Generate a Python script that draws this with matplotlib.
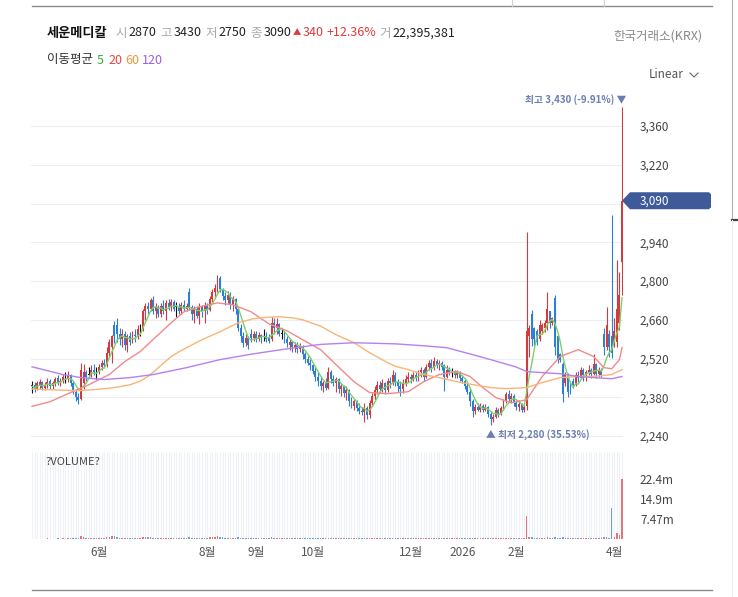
import numpy as np
import pandas as pd
import matplotlib
matplotlib.use('Agg')
import matplotlib.pyplot as plt
from matplotlib.patches import Polygon

plt.rcParams['font.family'] = ['Noto Sans CJK KR', 'DejaVu Sans']

# daily candles, late Apr 2025 .. early Apr 2026
opens = [
    2420, 2425, 2410, 2425, 2435, 2415, 2425, 2440, 2420, 2430,
    2450, 2435, 2440, 2450, 2450, 2460, 2430, 2400, 2380, 2375,
    2430, 2470, 2460, 2460, 2480, 2470, 2470, 2490, 2505, 2495,
    2540, 2560, 2640, 2640, 2610, 2590, 2610, 2570, 2600, 2580,
    2605, 2600, 2625, 2625, 2690, 2710, 2700, 2730, 2690, 2705,
    2680, 2710, 2690, 2720, 2705, 2725, 2705, 2705, 2690, 2715,
    2700, 2760, 2705, 2680, 2700, 2675, 2705, 2690, 2710, 2695,
    2735, 2760, 2775, 2810, 2770, 2745, 2730, 2750, 2715, 2735,
    2700, 2630, 2600, 2575, 2595, 2610, 2595, 2610, 2590, 2605,
    2600, 2600, 2595, 2590, 2650, 2630, 2645, 2610, 2610, 2590,
    2570, 2580, 2560, 2570, 2555, 2565, 2535, 2520, 2505, 2495,
    2475, 2455, 2440, 2420, 2430, 2415, 2470, 2445, 2430, 2445,
    2410, 2420, 2395, 2405, 2365, 2350, 2365, 2340, 2330, 2325,
    2340, 2315, 2360, 2385, 2405, 2425, 2410, 2430, 2405, 2440,
    2430, 2460, 2435, 2420, 2410, 2430, 2445, 2455, 2445, 2460,
    2450, 2470, 2480, 2455, 2490, 2505, 2485, 2510, 2495, 2505,
    2495, 2455, 2480, 2470, 2475, 2460, 2470, 2450, 2440, 2420,
    2400, 2365, 2330, 2345, 2335, 2350, 2335, 2345, 2320, 2300,
    2310, 2335, 2320, 2340, 2365, 2390, 2375, 2385, 2360, 2345,
    2355, 2335, 2350, 2600, 2680, 2630, 2620, 2590, 2620, 2630,
    2650, 2690, 2650, 2740, 2600, 2535, 2500, 2430, 2460, 2420,
    2440, 2425, 2460, 2450, 2480, 2460, 2470, 2480, 2465, 2500,
    2465, 2480, 2610, 2560, 2610, 2600, 2570, 2580, 2650, 2870,
]
highs = [
    2440, 2435, 2440, 2445, 2440, 2435, 2450, 2445, 2440, 2455,
    2460, 2450, 2465, 2470, 2475, 2465, 2440, 2410, 2395, 2505,
    2500, 2480, 2490, 2495, 2500, 2490, 2500, 2515, 2520, 2560,
    2590, 2606, 2655, 2667, 2630, 2625, 2620, 2610, 2615, 2620,
    2625, 2640, 2645, 2700, 2720, 2725, 2740, 2745, 2720, 2715,
    2720, 2730, 2730, 2735, 2735, 2730, 2725, 2720, 2725, 2730,
    2720, 2775, 2715, 2710, 2710, 2720, 2715, 2725, 2720, 2745,
    2770, 2790, 2822, 2818, 2775, 2760, 2765, 2760, 2745, 2740,
    2705, 2645, 2615, 2610, 2600, 2625, 2620, 2620, 2615, 2610,
    2625, 2615, 2610, 2670, 2665, 2665, 2650, 2630, 2620, 2600,
    2590, 2585, 2580, 2580, 2575, 2570, 2545, 2530, 2520, 2500,
    2490, 2470, 2455, 2440, 2450, 2490, 2480, 2460, 2455, 2450,
    2430, 2425, 2420, 2410, 2380, 2375, 2370, 2360, 2345, 2360,
    2350, 2370, 2395, 2420, 2440, 2440, 2445, 2435, 2450, 2455,
    2480, 2470, 2445, 2440, 2445, 2460, 2470, 2465, 2470, 2475,
    2480, 2490, 2485, 2500, 2516, 2520, 2525, 2520, 2515, 2510,
    2500, 2495, 2490, 2485, 2480, 2480, 2475, 2460, 2450, 2430,
    2415, 2375, 2355, 2360, 2360, 2355, 2355, 2350, 2330, 2320,
    2345, 2340, 2350, 2375, 2400, 2405, 2395, 2390, 2370, 2370,
    2360, 2355, 2978, 2642, 2695, 2635, 2625, 2660, 2650, 2660,
    2760, 2690, 2670, 2750, 2606, 2540, 2508, 2470, 2469, 2440,
    2450, 2470, 2475, 2490, 2485, 2480, 2495, 2485, 2537, 2505,
    2490, 2485, 2632, 2707, 2624, 3040, 2667, 2876, 2833, 3430,
]
lows = [
    2395, 2400, 2405, 2410, 2405, 2405, 2415, 2410, 2410, 2420,
    2425, 2420, 2430, 2430, 2435, 2420, 2390, 2365, 2355, 2370,
    2410, 2440, 2450, 2455, 2460, 2445, 2465, 2480, 2485, 2490,
    2530, 2505, 2577, 2580, 2570, 2560, 2550, 2545, 2570, 2575,
    2580, 2590, 2600, 2620, 2660, 2680, 2690, 2680, 2665, 2670,
    2670, 2680, 2660, 2695, 2690, 2690, 2670, 2680, 2680, 2690,
    2690, 2695, 2660, 2650, 2665, 2645, 2670, 2650, 2680, 2690,
    2725, 2740, 2760, 2760, 2730, 2715, 2720, 2700, 2690, 2680,
    2620, 2580, 2560, 2565, 2555, 2580, 2585, 2580, 2585, 2575,
    2585, 2580, 2575, 2585, 2610, 2610, 2600, 2590, 2575, 2560,
    2550, 2545, 2545, 2540, 2545, 2520, 2505, 2495, 2480, 2465,
    2440, 2420, 2405, 2400, 2405, 2410, 2430, 2420, 2400, 2395,
    2385, 2380, 2370, 2350, 2340, 2335, 2330, 2320, 2315, 2292,
    2300, 2305, 2350, 2370, 2390, 2395, 2400, 2390, 2400, 2415,
    2425, 2420, 2400, 2385, 2395, 2420, 2435, 2430, 2440, 2440,
    2440, 2455, 2440, 2450, 2480, 2470, 2480, 2485, 2480, 2480,
    2404, 2450, 2460, 2455, 2450, 2450, 2440, 2430, 2410, 2390,
    2350, 2310, 2320, 2330, 2325, 2325, 2330, 2310, 2280, 2290,
    2305, 2310, 2315, 2335, 2360, 2365, 2360, 2350, 2335, 2330,
    2325, 2325, 2335, 2527, 2565, 2570, 2570, 2585, 2610, 2615,
    2624, 2630, 2640, 2533, 2505, 2508, 2364, 2420, 2380, 2390,
    2415, 2420, 2435, 2445, 2440, 2440, 2460, 2450, 2460, 2450,
    2455, 2455, 2534, 2552, 2527, 2523, 2563, 2560, 2624, 2750,
]
closes = [
    2420, 2410, 2430, 2435, 2415, 2425, 2435, 2420, 2430, 2445,
    2435, 2440, 2455, 2450, 2460, 2430, 2400, 2380, 2370, 2480,
    2470, 2455, 2460, 2480, 2470, 2470, 2490, 2505, 2495, 2540,
    2580, 2600, 2600, 2610, 2590, 2610, 2570, 2600, 2580, 2605,
    2600, 2625, 2625, 2690, 2710, 2700, 2730, 2690, 2705, 2680,
    2710, 2690, 2720, 2705, 2725, 2700, 2705, 2690, 2715, 2700,
    2710, 2705, 2680, 2700, 2675, 2705, 2690, 2710, 2695, 2735,
    2760, 2775, 2800, 2770, 2745, 2730, 2750, 2715, 2735, 2700,
    2630, 2600, 2575, 2595, 2570, 2595, 2610, 2590, 2605, 2595,
    2600, 2590, 2585, 2650, 2630, 2645, 2610, 2610, 2590, 2575,
    2580, 2560, 2570, 2555, 2565, 2535, 2520, 2505, 2495, 2475,
    2455, 2440, 2420, 2430, 2415, 2470, 2445, 2430, 2445, 2410,
    2420, 2395, 2405, 2365, 2350, 2365, 2340, 2330, 2325, 2340,
    2315, 2360, 2385, 2405, 2425, 2410, 2430, 2405, 2440, 2430,
    2460, 2435, 2420, 2410, 2430, 2445, 2455, 2445, 2460, 2450,
    2470, 2480, 2455, 2490, 2505, 2485, 2510, 2495, 2505, 2490,
    2455, 2480, 2470, 2470, 2460, 2470, 2450, 2440, 2420, 2400,
    2365, 2330, 2345, 2335, 2350, 2335, 2345, 2320, 2300, 2310,
    2335, 2320, 2340, 2365, 2390, 2375, 2385, 2360, 2345, 2355,
    2335, 2345, 2620, 2630, 2590, 2590, 2580, 2640, 2640, 2650,
    2700, 2650, 2665, 2560, 2520, 2515, 2390, 2460, 2400, 2400,
    2425, 2460, 2450, 2480, 2460, 2470, 2480, 2465, 2500, 2465,
    2480, 2460, 2560, 2640, 2560, 2540, 2620, 2700, 2750, 3090,
]
# volume in thousands of shares
volume_k = [
    180, 150, 170, 160, 140, 150, 190, 160, 150, 170,
    210, 180, 200, 170, 220, 260, 300, 340, 280, 1300,
    900, 500, 400, 350, 300, 280, 350, 420, 380, 700,
    900, 1100, 1200, 800, 500, 450, 380, 400, 350, 420,
    380, 450, 400, 900, 850, 600, 700, 500, 450, 400,
    420, 380, 450, 400, 430, 380, 350, 330, 360, 340,
    380, 700, 450, 400, 380, 420, 350, 400, 380, 600,
    700, 800, 1000, 900, 600, 500, 450, 420, 400, 380,
    600, 500, 450, 400, 380, 350, 330, 320, 300, 310,
    300, 280, 290, 600, 400, 380, 330, 300, 290, 280,
    260, 250, 240, 250, 230, 260, 270, 250, 240, 260,
    280, 300, 290, 260, 250, 450, 300, 280, 260, 250,
    240, 250, 230, 260, 280, 240, 250, 270, 300, 350,
    320, 400, 380, 350, 330, 300, 290, 280, 300, 290,
    400, 320, 300, 280, 270, 260, 250, 240, 260, 250,
    270, 300, 280, 320, 350, 300, 330, 290, 280, 270,
    380, 300, 260, 240, 230, 220, 230, 240, 250, 280,
    350, 380, 300, 270, 260, 250, 240, 260, 320, 280,
    260, 240, 250, 280, 300, 260, 240, 230, 250, 240,
    230, 250, 8600, 900, 600, 450, 400, 450, 350, 400,
    700, 400, 350, 800, 500, 350, 600, 400, 380, 300,
    280, 300, 260, 320, 280, 260, 300, 280, 450, 300,
    280, 260, 600, 900, 500, 11600, 700, 2200, 1600, 22395.381,
]

# moving averages (candle index, price)
ma20_idx = [0, 7, 15, 22, 30, 36, 42, 46, 54, 59, 65, 72, 78, 85, 92, 99, 105, 112, 118,
            125, 131, 138, 146, 152, 158, 165, 170, 175, 180, 186, 192, 198, 205, 212,
            218, 222, 225, 228, 229]
ma20_val = [2347, 2364, 2397, 2425, 2462, 2509, 2545, 2580, 2649, 2689, 2707, 2721, 2714,
            2689, 2645, 2620, 2588, 2552, 2498, 2436, 2397, 2393, 2400, 2436, 2462, 2473,
            2455, 2415, 2379, 2360, 2371, 2455, 2527, 2552, 2527, 2487, 2483, 2516, 2560]
ma60_idx = [0, 10, 19, 26, 32, 38, 42, 45, 48, 51, 54, 57, 60, 66, 73, 80, 86, 91, 96,
            101, 105, 112, 118, 125, 131, 138, 141, 146, 152, 158, 165, 171, 178, 184,
            192, 198, 205, 212, 218, 225, 229]
ma60_val = [2410, 2406, 2404, 2409, 2415, 2425, 2438, 2455, 2478, 2503, 2527, 2544, 2559,
            2588, 2617, 2649, 2664, 2669, 2671, 2667, 2660, 2637, 2606, 2577, 2541, 2505,
            2492, 2480, 2462, 2451, 2436, 2426, 2415, 2411, 2415, 2433, 2451, 2455, 2455,
            2462, 2480]
ma120_idx = [0, 6, 12, 19, 28, 38, 47, 60, 73, 86, 99, 112, 125, 141, 152, 161, 171, 178,
             188, 192, 198, 205, 212, 218, 225, 229]
ma120_val = [2490, 2476, 2462, 2451, 2444, 2451, 2462, 2487, 2516, 2537, 2555, 2571, 2577,
             2573, 2566, 2559, 2534, 2516, 2489, 2473, 2469, 2465, 2455, 2451, 2447, 2455]

month_pos = [26, 68, 87, 109, 147, 167, 188, 226]
month_lbl = ['6월', '8월', '9월', '10월', '12월', '2026', '2월', '4월']
price_ticks = [2240, 2380, 2520, 2660, 2800, 2940, 3080, 3220, 3360]

UP, DOWN, FLAT = '#d13a3f', '#2d7fd3', '#111111'
W, H = 738, 597

o, h, l, c = map(np.array, (opens, highs, lows, closes))
vol = np.array(volume_k) * 1000
idx = np.arange(len(c))
cols = np.where(c > o, UP, np.where(c < o, DOWN, FLAT))

fig = plt.figure(figsize=(W / 100, H / 100), dpi=100)
fig.patch.set_facecolor('white')


def box(left, top, right, bottom):
    return [left / W, 1 - bottom / H, (right - left) / W, (bottom - top) / H]


# price panel
ax = fig.add_axes(box(30.7, 88, 623.3, 447))
ax.set_xlim(-0.5, len(c) - 0.5)
ax.set_ylim(2200.3, 3497.3)
ax.vlines(idx, l, h, colors=cols, lw=0.8, zorder=2)
body = np.maximum(np.abs(c - o), 3)
ax.bar(idx, body, bottom=np.minimum(o, c), width=0.75, color=cols, lw=0, zorder=2)

ma5 = pd.Series(c).rolling(5, min_periods=1).mean()
ax.plot(idx, ma5, color='#7fd06c', lw=1.0, zorder=3)
ax.plot(ma20_idx, ma20_val, color='#f18a8a', lw=1.0, zorder=3)
ax.plot(ma60_idx, ma60_val, color='#f7b577', lw=1.0, zorder=3)
ax.plot(ma120_idx, ma120_val, color='#b681ee', lw=1.0, zorder=3)

ax.set_yticks(price_ticks)
ax.set_yticklabels(['' if v == 3080 else f'{v:,}' for v in price_ticks])
ax.yaxis.tick_right()
ax.tick_params(axis='y', length=0, pad=12, labelsize=8.5, labelcolor='#444444')
ax.set_xticks([])
ax.grid(axis='y', color='#eeeeee', lw=0.8)
ax.set_axisbelow(True)
for s in ax.spines.values():
    s.set_visible(False)

hi_i, lo_i = int(np.argmax(h)), int(np.argmin(l))
ax.annotate(f'최고 {h[hi_i]:,} (-9.91%) ▼', xy=(hi_i, h[hi_i]), xytext=(3, 1),
            textcoords='offset points', ha='right', va='bottom', fontsize=7,
            fontweight='bold', color='#6b7db3', zorder=5)
ax.annotate(f'▲ 최저 {l[lo_i]:,} (35.53%)', xy=(lo_i, l[lo_i]), xytext=(-3, -3),
            textcoords='offset points', ha='left', va='top', fontsize=7,
            fontweight='bold', color='#6b7db3', zorder=5)

# volume panel
axv = fig.add_axes(box(30.7, 452, 623.3, 539))
vmax = vol.max()
vtop = vmax * 87 / 60
axv.set_xlim(-0.5, len(c) - 0.5)
axv.set_ylim(0, vtop)
axv.vlines(idx, 0, vtop, colors='#eef1f7', lw=0.75, zorder=0)
vcols = np.where(c >= o, '#e4737a', '#6f9fdc')
axv.bar(idx, vol, width=0.6, color=vcols, lw=0, zorder=2)
vt = [vmax / 3, vmax * 2 / 3, vmax]
axv.set_yticks(vt)
axv.set_yticklabels([f'{v / 1e6:.3g}m' for v in vt])
axv.yaxis.tick_right()
axv.tick_params(axis='y', length=0, pad=12, labelsize=8.5, labelcolor='#444444')
axv.set_xticks(month_pos)
axv.set_xticklabels(month_lbl)
axv.tick_params(axis='x', length=0, pad=5, labelsize=8.5, labelcolor='#555555')
for s in axv.spines.values():
    s.set_visible(False)
axv.text(0.025, 0.88, '?VOLUME?', transform=axv.transAxes, fontsize=8,
         color='#444444', va='center', ha='left')

# overlay in pixel coordinates for header, tag and frame
deco = fig.add_axes([0, 0, 1, 1], zorder=10)
deco.set_xlim(0, W)
deco.set_ylim(H, 0)
deco.axis('off')
rend = fig.canvas.get_renderer()


def put_row(x, y, parts):
    for s, color, size, weight, gap in parts:
        t = deco.text(x, y, s, color=color, fontsize=size, fontweight=weight,
                      ha='left', va='center')
        x += t.get_window_extent(renderer=rend).width + gap


put_row(47, 33, [
    ('세운메디칼', '#111111', 9.5, 'bold', 8),
    ('시', '#aaaaaa', 9, 'normal', 1.5), ('2870', '#222222', 9, 'normal', 4),
    ('고', '#aaaaaa', 9, 'normal', 1.5), ('3430', '#222222', 9, 'normal', 4),
    ('저', '#aaaaaa', 9, 'normal', 1.5), ('2750', '#222222', 9, 'normal', 4),
    ('종', '#aaaaaa', 9, 'normal', 1.5), ('3090', '#222222', 9, 'normal', 1.5),
    ('▲', '#e03a3a', 6, 'normal', 1.5), ('340', '#e03a3a', 9, 'normal', 2.5),
    ('+12.36%', '#e03a3a', 9, 'normal', 4),
    ('거', '#aaaaaa', 9, 'normal', 1.5), ('22,395,381', '#222222', 9, 'normal', 0),
])
put_row(47, 60, [
    ('이동평균', '#333333', 9, 'normal', 4),
    ('5', '#3aae3a', 9, 'normal', 4), ('20', '#e8443f', 9, 'normal', 3),
    ('60', '#f0963c', 9, 'normal', 3), ('120', '#9b5de5', 9, 'normal', 0),
])
deco.text(702, 36, '한국거래소(KRX)', color='#888888', fontsize=9, ha='right', va='center')
deco.text(684, 75, 'Linear', color='#555555', fontsize=8.5, ha='right', va='center')
deco.plot([690, 694, 698], [73, 77, 73], color='#666666', lw=0.8)

# current price tag
yc = H - ax.transData.transform((0, c[-1]))[1]
tag = Polygon([(622, yc), (630, yc - 8.5), (709, yc - 8.5), (711, yc - 6.5),
               (711, yc + 6.5), (709, yc + 8.5), (630, yc + 8.5)],
              closed=True, facecolor='#3e5a99', edgecolor='none')
deco.add_patch(tag)
deco.text(640, yc, f'{c[-1]:,}', color='white', fontsize=8.5, ha='left', va='center')

# frame lines
deco.plot([32, 712], [6, 6], color='#8a8a8a', lw=1.0)
deco.plot([32, 712], [590, 590], color='#8a8a8a', lw=1.0)
deco.plot([732, 732], [0, 220], color='#b0b0b0', lw=0.8)
deco.plot([732, 738], [220, 220], color='#444444', lw=1.6)
deco.plot([732, 732], [220, 597], color='#eeeeee', lw=0.8)
deco.plot([512, 512], [0, 6], color='#d0d0d0', lw=0.8)
deco.plot([604, 604], [0, 6], color='#d0d0d0', lw=0.8)

fig.savefig('out.png', dpi=100)
